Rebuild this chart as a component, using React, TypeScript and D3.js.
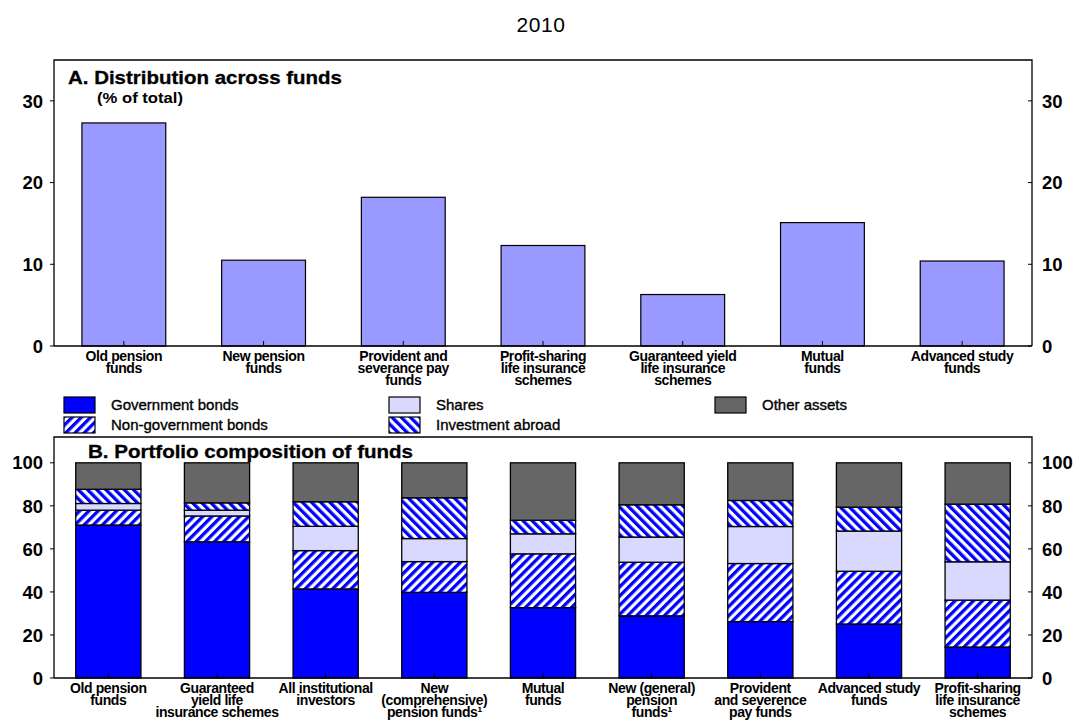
import React from "react";
import * as d3 from "d3";

const title = "2010";

const fundsA: string[][] = [
  ["Old pension", "funds"],
  ["New pension", "funds"],
  ["Provident and", "severance pay", "funds"],
  ["Profit-sharing", "life insurance", "schemes"],
  ["Guaranteed yield", "life insurance", "schemes"],
  ["Mutual", "funds"],
  ["Advanced study", "funds"],
];
const shareA = [27.3, 10.5, 18.2, 12.3, 6.3, 15.1, 10.4];
const ticksA = [0, 10, 20, 30];

const fundsB: string[][] = [
  ["Old pension", "funds"],
  ["Guaranteed", "yield life", "insurance schemes"],
  ["All institutional", "investors"],
  ["New", "(comprehensive)", "pension funds¹"],
  ["Mutual", "funds"],
  ["New (general)", "pension", "funds¹"],
  ["Provident", "and severence", "pay funds"],
  ["Advanced study", "funds"],
  ["Profit-sharing", "life insurance", "schemes"],
];
const govBonds = [71.1, 63.3, 41.4, 39.8, 32.7, 28.9, 26.2, 25.1, 14.4];
const nonGovBonds = [6.9, 12.0, 17.8, 14.3, 25.0, 24.9, 27.0, 24.5, 21.8];
const shares = [3.1, 2.7, 11.3, 10.7, 9.3, 11.7, 17.2, 18.7, 17.8];
const abroad = [6.6, 3.4, 11.4, 18.95, 6.3, 15.0, 12.1, 11.1, 26.8];
const other = [12.3, 18.6, 18.1, 16.25, 26.7, 19.5, 17.5, 20.6, 19.2];
const ticksB = [0, 20, 40, 60, 80, 100];

const seriesNames = ["Government bonds", "Non-government bonds", "Shares", "Investment abroad", "Other assets"];
const seriesFills = ["#0000ff", "url(#pNonGov)", "#d9d9ff", "url(#pAbroad)", "#666666"];

const FONT = "Arial, 'Liberation Sans', sans-serif";

export default function App() {
  const W = 1077, H = 720;
  const left = 54, right = 1032;

  // Panel A
  const aTop = 60, aBottom = 346;
  const xA = d3.scaleBand<number>().domain(d3.range(fundsA.length)).range([left, right]).paddingInner(0.4).paddingOuter(0.2);
  const yA = d3.scaleLinear().domain([0, 35]).range([aBottom, aTop]);

  // Panel B
  const bTop = 437, bBottom = 678;
  const xB = d3.scaleBand<number>().domain(d3.range(fundsB.length)).range([left, right]).paddingInner(0.4).paddingOuter(0.2);
  const yB = d3.scaleLinear().domain([0, 112]).range([bBottom, bTop]);

  const rows = fundsB.map((_, i) => ({
    i,
    gov: govBonds[i],
    nongov: nonGovBonds[i],
    shares: shares[i],
    abroad: abroad[i],
    other: other[i],
  }));
  const keys = ["gov", "nongov", "shares", "abroad", "other"];
  const stacked = d3.stack<any>().keys(keys)(rows);

  const tickFont = 18.5;
  const labelFont = 14;

  const renderXLabels = (funds: string[][], xs: d3.ScaleBand<number>, y0: number) =>
    funds.map((lines, i) => (
      <text key={i} x={xs(i)! + xs.bandwidth() / 2} y={y0} textAnchor="middle" fontSize={labelFont}
        fontFamily={FONT} fontWeight="bold" letterSpacing={-0.4} fill="#000">
        {lines.map((l, j) => (
          <tspan key={j} x={xs(i)! + xs.bandwidth() / 2} dy={j === 0 ? 0 : 12}>{l}</tspan>
        ))}
      </text>
    ));

  const legendItems = [
    { name: seriesNames[0], fill: seriesFills[0], x: 64, y: 397 },
    { name: seriesNames[1], fill: seriesFills[1], x: 64, y: 417 },
    { name: seriesNames[2], fill: seriesFills[2], x: 389, y: 397 },
    { name: seriesNames[3], fill: seriesFills[3], x: 389, y: 417 },
    { name: seriesNames[4], fill: seriesFills[4], x: 715, y: 397 },
  ];

  return (
    <svg width={W} height={H} style={{ position: "absolute", left: 0, top: 0, background: "#fff" }}
      fontFamily={FONT}>
      <defs>
        <pattern id="pNonGov" patternUnits="userSpaceOnUse" width={6.5} height={6.5} patternTransform="rotate(45)">
          <rect width={6.5} height={6.5} fill="#fff" />
          <rect width={3.3} height={6.5} fill="#0000ff" />
        </pattern>
        <pattern id="pAbroad" patternUnits="userSpaceOnUse" width={6.5} height={6.5} patternTransform="rotate(-45)">
          <rect width={6.5} height={6.5} fill="#fff" />
          <rect width={3.3} height={6.5} fill="#0000ff" />
        </pattern>
      </defs>

      <text x={541} y={32} textAnchor="middle" fontSize={21} letterSpacing={0.6} fill="#000">{title}</text>

      {/* Panel A */}
      <g>
        {shareA.map((v, i) => (
          <rect key={i} x={xA(i)} y={yA(v)} width={xA.bandwidth()} height={yA(0) - yA(v)}
            fill="#9999ff" stroke="#000" strokeWidth={1.2} />
        ))}
        <path d={`M${left},${aBottom} V${aTop} H${right} V${aBottom}`} fill="none" stroke="#000" strokeWidth={1.3} />
        <line x1={left} x2={right} y1={aBottom} y2={aBottom} stroke="#000" strokeWidth={1.3} />
        {ticksA.map((t) => (
          <g key={t}>
            <line x1={left - 4} x2={left} y1={yA(t)} y2={yA(t)} stroke="#000" />
            <line x1={right - 4} x2={right} y1={yA(t)} y2={yA(t)} stroke="#000" />
            <text x={43} y={yA(t)} dy="0.36em" textAnchor="end" fontSize={tickFont} fontWeight="bold" fill="#000">{t}</text>
            <text x={1042} y={yA(t)} dy="0.36em" textAnchor="start" fontSize={tickFont} fontWeight="bold" fill="#000">{t}</text>
          </g>
        ))}
        {shareA.map((_, i) => (
          <line key={i} x1={xA(i)! + xA.bandwidth() / 2} x2={xA(i)! + xA.bandwidth() / 2} y1={aBottom} y2={aBottom - 5} stroke="#000" />
        ))}
        {renderXLabels(fundsA, xA, 361)}
        <text x={68} y={84} fontSize={18} fontWeight="bold" textLength={274} lengthAdjust="spacingAndGlyphs"
          stroke="#000" strokeWidth={0.3} fill="#000">A. Distribution across funds</text>
        <text x={97} y={103} fontSize={15} fontWeight="bold" textLength={86} lengthAdjust="spacingAndGlyphs" fill="#000">(% of total)</text>
      </g>

      {/* Legend */}
      {legendItems.map((it, k) => (
        <g key={k}>
          <rect x={it.x} y={it.y} width={31} height={16} fill={it.fill} stroke="#000" strokeWidth={1.2} />
          <text x={it.x + 47} y={it.y + 8} dy="0.36em" fontSize={15} stroke="#000" strokeWidth={0.35} fill="#000">{it.name}</text>
        </g>
      ))}

      {/* Panel B */}
      <g>
        {stacked.map((s, k) => (
          <g key={k}>
            {s.map((d, i) => (
              <rect key={i} x={xB(i)} y={yB(d[1])} width={xB.bandwidth()} height={yB(d[0]) - yB(d[1])}
                fill={seriesFills[k]} stroke="#000" strokeWidth={1.3} />
            ))}
          </g>
        ))}
        <path d={`M${left},${bBottom} V${bTop} H${right} V${bBottom}`} fill="none" stroke="#000" strokeWidth={1.3} />
        <line x1={left} x2={right} y1={bBottom} y2={bBottom} stroke="#000" strokeWidth={1.3} />
        {ticksB.map((t) => (
          <g key={t}>
            <line x1={left - 4} x2={left} y1={yB(t)} y2={yB(t)} stroke="#000" />
            <line x1={right - 4} x2={right} y1={yB(t)} y2={yB(t)} stroke="#000" />
            <text x={43} y={yB(t)} dy="0.36em" textAnchor="end" fontSize={tickFont} fontWeight="bold" fill="#000">{t}</text>
            <text x={1042} y={yB(t)} dy="0.36em" textAnchor="start" fontSize={tickFont} fontWeight="bold" fill="#000">{t}</text>
          </g>
        ))}
        {fundsB.map((_, i) => (
          <line key={i} x1={xB(i)! + xB.bandwidth() / 2} x2={xB(i)! + xB.bandwidth() / 2} y1={bBottom} y2={bBottom - 5} stroke="#000" />
        ))}
        {renderXLabels(fundsB, xB, 693)}
        <text x={88} y={458} fontSize={18} fontWeight="bold" textLength={325} lengthAdjust="spacingAndGlyphs"
          stroke="#000" strokeWidth={0.3} fill="#000">B. Portfolio composition of funds</text>
      </g>
    </svg>
  );
}
